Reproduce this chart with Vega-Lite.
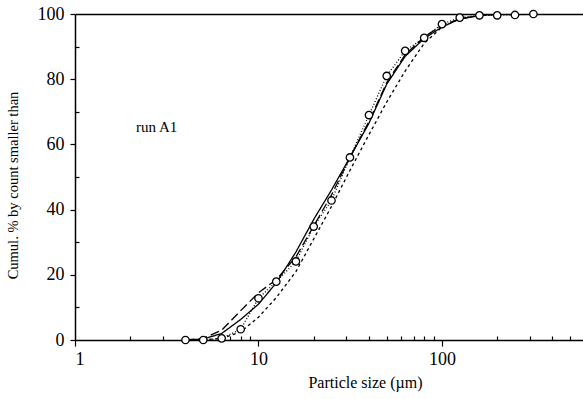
{
  "$schema": "https://vega.github.io/schema/vega-lite/v6.json",
  "autosize": "none",
  "width": 508,
  "height": 326,
  "padding": {"left": 75, "top": 14, "right": 0, "bottom": 59},
  "background": "white",
  "config": {
    "view": {"stroke": null},
    "font": "Liberation Serif",
    "axis": {"grid": false, "domainColor": "black", "tickColor": "black", "labelColor": "black", "titleColor": "black", "labelFont": "Liberation Serif", "titleFont": "Liberation Serif", "labelFontSize": 18, "titleFontSize": 15, "titleFontWeight": "normal", "domainWidth": 1.5, "tickWidth": 1.2}
  },
  "datasets": {
    "curves": [
      {"series": "circles", "size": 4, "pct": 0}, {"series": "circles", "size": 5, "pct": 0}, {"series": "circles", "size": 6.3, "pct": 0.5}, {"series": "circles", "size": 8, "pct": 3.3}, {"series": "circles", "size": 10, "pct": 12.8}, {"series": "circles", "size": 12.5, "pct": 17.9}, {"series": "circles", "size": 16, "pct": 24.1}, {"series": "circles", "size": 20, "pct": 34.8}, {"series": "circles", "size": 25, "pct": 42.8}, {"series": "circles", "size": 31.5, "pct": 56}, {"series": "circles", "size": 40, "pct": 69}, {"series": "circles", "size": 50, "pct": 81}, {"series": "circles", "size": 63, "pct": 88.7}, {"series": "circles", "size": 80, "pct": 92.7}, {"series": "circles", "size": 100, "pct": 96.9}, {"series": "circles", "size": 125, "pct": 98.9}, {"series": "circles", "size": 160, "pct": 99.6}, {"series": "circles", "size": 200, "pct": 99.6}, {"series": "circles", "size": 250, "pct": 99.7}, {"series": "circles", "size": 315, "pct": 100},
      {"series": "solid", "size": 4, "pct": 0}, {"series": "solid", "size": 5, "pct": 0.3}, {"series": "solid", "size": 6.3, "pct": 2}, {"series": "solid", "size": 8, "pct": 6.3}, {"series": "solid", "size": 10, "pct": 11}, {"series": "solid", "size": 12.5, "pct": 17.5}, {"series": "solid", "size": 16, "pct": 27}, {"series": "solid", "size": 20, "pct": 37}, {"series": "solid", "size": 25, "pct": 46}, {"series": "solid", "size": 31.5, "pct": 56}, {"series": "solid", "size": 40, "pct": 66.5}, {"series": "solid", "size": 50, "pct": 78.5}, {"series": "solid", "size": 63, "pct": 87}, {"series": "solid", "size": 80, "pct": 92.5}, {"series": "solid", "size": 100, "pct": 96}, {"series": "solid", "size": 125, "pct": 98.5}, {"series": "solid", "size": 160, "pct": 99.5}, {"series": "solid", "size": 200, "pct": 100},
      {"series": "longdash", "size": 4, "pct": 0}, {"series": "longdash", "size": 5, "pct": 0.5}, {"series": "longdash", "size": 6.3, "pct": 3}, {"series": "longdash", "size": 8, "pct": 9}, {"series": "longdash", "size": 10, "pct": 14.5}, {"series": "longdash", "size": 12.5, "pct": 18.5}, {"series": "longdash", "size": 16, "pct": 25.5}, {"series": "longdash", "size": 20, "pct": 35}, {"series": "longdash", "size": 25, "pct": 44.5}, {"series": "longdash", "size": 31.5, "pct": 56}, {"series": "longdash", "size": 40, "pct": 67}, {"series": "longdash", "size": 50, "pct": 79}, {"series": "longdash", "size": 63, "pct": 87.5}, {"series": "longdash", "size": 80, "pct": 93}, {"series": "longdash", "size": 100, "pct": 96.5}, {"series": "longdash", "size": 125, "pct": 98.5}, {"series": "longdash", "size": 160, "pct": 99.5}, {"series": "longdash", "size": 200, "pct": 100},
      {"series": "shortdash", "size": 4, "pct": 0}, {"series": "shortdash", "size": 5, "pct": 0}, {"series": "shortdash", "size": 6.3, "pct": 0.5}, {"series": "shortdash", "size": 8, "pct": 2.5}, {"series": "shortdash", "size": 10, "pct": 7}, {"series": "shortdash", "size": 12.5, "pct": 13}, {"series": "shortdash", "size": 16, "pct": 21}, {"series": "shortdash", "size": 20, "pct": 31}, {"series": "shortdash", "size": 25, "pct": 41}, {"series": "shortdash", "size": 31.5, "pct": 52}, {"series": "shortdash", "size": 40, "pct": 63}, {"series": "shortdash", "size": 50, "pct": 73}, {"series": "shortdash", "size": 63, "pct": 82.5}, {"series": "shortdash", "size": 80, "pct": 91}, {"series": "shortdash", "size": 100, "pct": 96}, {"series": "shortdash", "size": 125, "pct": 98.5}, {"series": "shortdash", "size": 160, "pct": 99.5}, {"series": "shortdash", "size": 200, "pct": 100}
    ],
    "notes": [{"label": "run A1", "size": 2.15, "pct": 65.3}]
  },
  "resolve": {"axis": {"x": "independent", "y": "independent"}},
  "layer": [
    {
      "data": {"name": "curves"},
      "mark": {"type": "line", "strokeWidth": 1.3, "color": "black", "clip": true},
      "encoding": {
        "x": {"field": "size", "type": "quantitative", "scale": {"type": "log", "domain": [1, 587], "nice": false},
          "axis": {"orient": "bottom", "values": [1, 10, 100], "format": "d", "title": "Particle size (µm)", "tickSize": 6, "labelPadding": 4, "titleX": 290, "titleY": 34, "titleBaseline": "top", "titleFontSize": 16}},
        "y": {"field": "pct", "type": "quantitative", "scale": {"domain": [0, 100], "nice": false},
          "axis": {"orient": "left", "values": [0, 20, 40, 60, 80, 100], "title": "Cumul. % by count smaller than", "tickSize": 5, "labelPadding": 6, "titlePadding": 17, "titleY": 171, "titleFontSize": 14.5}},
        "strokeDash": {"field": "series", "type": "nominal",
          "scale": {"domain": ["circles", "solid", "longdash", "shortdash"], "range": [[1, 2], [1, 0], [9, 4], [3, 3]]}, "legend": null},
        "detail": {"field": "series"}
      }
    },
    {
      "data": {"name": "curves"},
      "transform": [{"filter": "datum.series === 'circles'"}],
      "mark": {"type": "point", "shape": "circle", "filled": true, "fill": "white", "stroke": "black", "strokeWidth": 1.3, "size": 55, "opacity": 1},
      "encoding": {
        "x": {"field": "size", "type": "quantitative", "scale": {"type": "log", "domain": [1, 587], "nice": false},
          "axis": {"orient": "bottom", "values": [2, 3, 4, 5, 6, 7, 8, 9, 20, 30, 40, 50, 60, 70, 80, 90, 200, 300, 400, 500], "labels": false, "domain": false, "tickSize": -4, "title": null}},
        "y": {"field": "pct", "type": "quantitative", "scale": {"domain": [0, 100], "nice": false},
          "axis": {"orient": "left", "values": [10, 30, 50, 70, 90], "labels": false, "domain": false, "tickSize": -4, "title": null}}
      }
    },
    {
      "data": {"name": "notes"},
      "mark": {"type": "text", "font": "Liberation Serif", "fontSize": 15, "align": "left", "baseline": "middle", "color": "black"},
      "encoding": {
        "x": {"field": "size", "type": "quantitative", "scale": {"type": "log", "domain": [1, 587], "nice": false},
          "axis": {"orient": "top", "labels": false, "ticks": false, "title": null, "domainWidth": 1.5}},
        "y": {"field": "pct", "type": "quantitative", "scale": {"domain": [0, 100], "nice": false}, "axis": null},
        "text": {"field": "label"}
      }
    }
  ]
}
